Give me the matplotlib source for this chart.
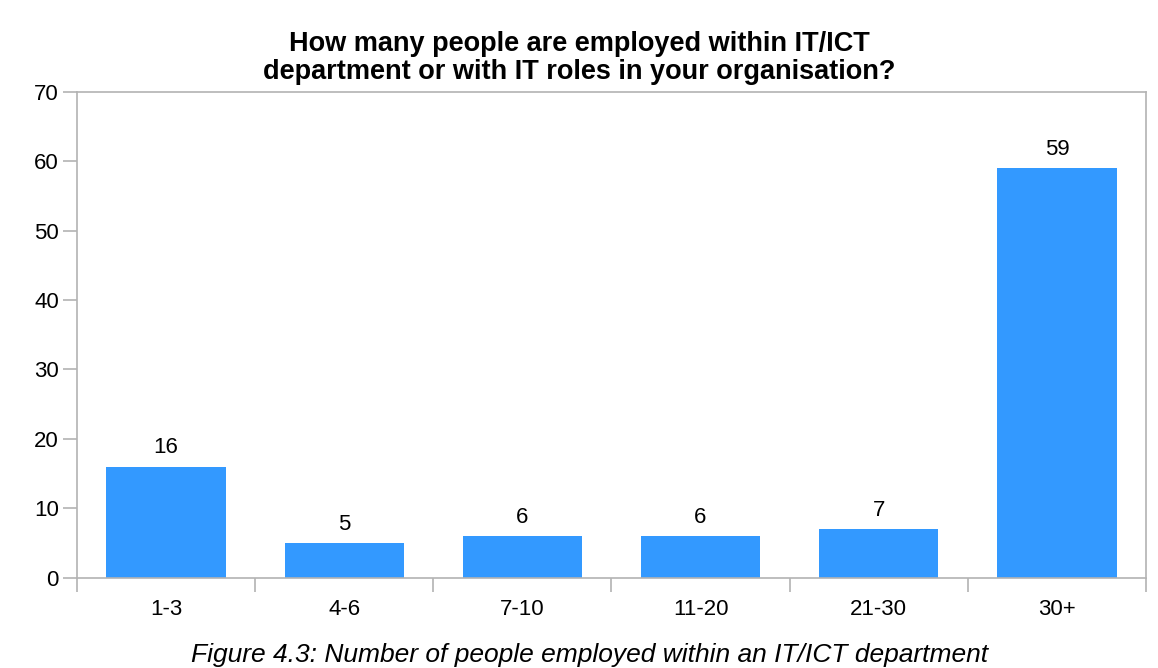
import matplotlib.pyplot as plt
import numpy as np

plt.rcParams['font.family'] = ['Liberation Sans', 'DejaVu Sans']

# data
categories = ["1-3", "4-6", "7-10", "11-20", "21-30", "30+"]
counts = [16, 5, 6, 6, 7, 59]

title = "How many people are employed within IT/ICT\ndepartment or with IT roles in your organisation?"
caption = "Figure 4.3: Number of people employed within an IT/ICT department"

fig = plt.figure(figsize=(11.58, 6.68), dpi=100)
ax = fig.add_axes([0.0665, 0.1352, 0.9231, 0.7275])

x = np.arange(len(categories))
bars = ax.bar(x, counts, width=0.67, color="#3399ff", zorder=2)

for b, v in zip(bars, counts):
    ax.annotate(str(v), (b.get_x() + b.get_width() / 2, v), xytext=(0, 6),
                textcoords="offset points", ha="center", va="bottom", fontsize=16)

ax.set_xlim(-0.5, len(categories) - 0.5)
ax.set_ylim(0, 70)
ax.set_yticks(range(0, 71, 10))

# category labels centered, tick marks at boundaries
ax.set_xticks(x)
ax.set_xticklabels(categories, fontsize=16)
ax.set_xticks(np.arange(-0.5, len(categories)), minor=True)
ax.tick_params(axis="x", which="major", length=0, pad=15)
ax.tick_params(axis="x", which="minor", length=10, width=1.2, color="#b3b3b3")
ax.tick_params(axis="y", length=10, width=1.2, color="#b3b3b3", labelsize=16, pad=3)

for s in ax.spines.values():
    s.set_color("#b3b3b3")
    s.set_linewidth(1.2)

fig.text(0.5, 0.913, title, ha="center", va="center", fontsize=19.5, fontweight="bold",
         linespacing=1.12)
fig.text(0.509, 0.0195, caption, ha="center", va="center", fontsize=19, style="italic")

fig.savefig("out.png", dpi=100, facecolor="white")
